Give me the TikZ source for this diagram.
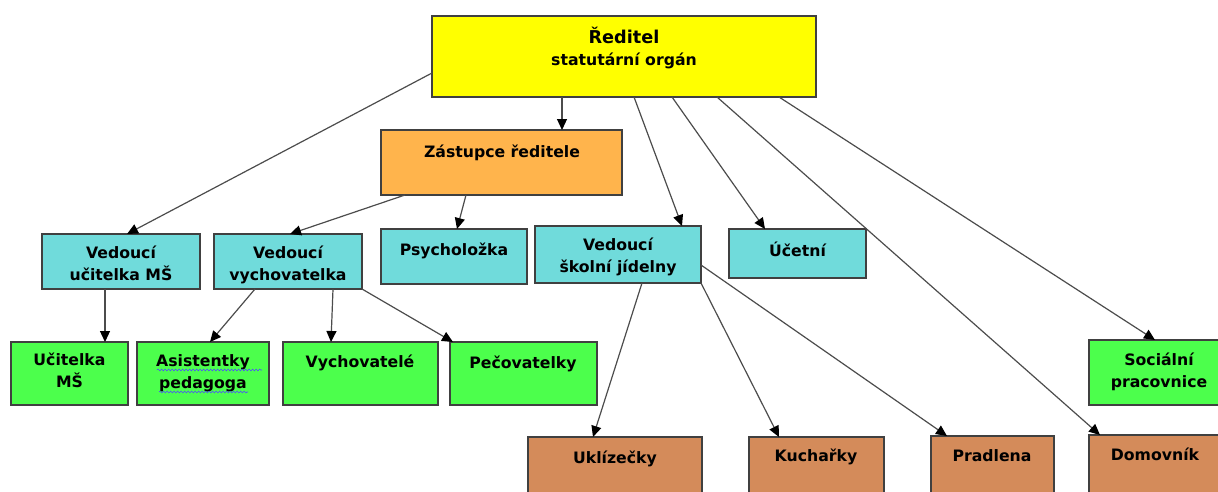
\documentclass[tikz,border=0pt]{standalone}
\usepackage{fontspec}
\setmainfont{DejaVu Sans}
\usepackage{xcolor}
\usetikzlibrary{arrows.meta, positioning, decorations.pathmorphing}

\definecolor{boxyellow}{HTML}{FFFF00}
\definecolor{boxorange}{HTML}{FFB44C}
\definecolor{boxcyan}{HTML}{70DBDB}
\definecolor{boxgreen}{HTML}{4CFF4C}
\definecolor{boxbrown}{HTML}{D48B5A}

\begin{document}
\begin{tikzpicture}[x=1pt, y=-1pt,
    box/.style={draw=black!75, line width=1.3pt, rectangle, anchor=north west, inner sep=0pt, outer sep=0pt},
    lbl/.style={anchor=north, align=center, inner sep=0pt, font=\bfseries\fontsize{15.7}{22}\selectfont, execute at begin node=\strut},
    conn/.style={draw=black!70, line width=1.2pt, -{Triangle[length=11pt, width=10pt, color=black]}},
    squiggle/.style={draw=blue!70, line width=0.6pt, decorate, decoration={snake, amplitude=0.9pt, segment length=3.5pt}}
    ]
        % Frame
        \useasboundingbox (0,0) rectangle (1218,491);
        \clip (0,0) rectangle (1218,491);

        % Top
        \node[box, fill=boxyellow, minimum width=384, minimum height=81] (red) at (432,16) {};
        \node[box, fill=boxorange, minimum width=241, minimum height=65] (zast) at (381,130) {};

        % Middle row
        \node[box, fill=boxcyan, minimum width=158, minimum height=55] (veduc) at (42,234) {};
        \node[box, fill=boxcyan, minimum width=148, minimum height=55] (vedvych) at (214,234) {};
        \node[box, fill=boxcyan, minimum width=146, minimum height=55] (psych) at (381,229) {};
        \node[box, fill=boxcyan, minimum width=166, minimum height=57] (vedjid) at (535,226) {};
        \node[box, fill=boxcyan, minimum width=137, minimum height=49] (ucet) at (729,229) {};

        % Green row
        \node[box, fill=boxgreen, minimum width=117, minimum height=63] (ucit) at (11,342) {};
        \node[box, fill=boxgreen, minimum width=132, minimum height=63] (asist) at (137,342) {};
        \node[box, fill=boxgreen, minimum width=155, minimum height=63] (vych) at (283,342) {};
        \node[box, fill=boxgreen, minimum width=147, minimum height=63] (pecov) at (450,342) {};
        \node[box, fill=boxgreen, minimum width=140, minimum height=65] (soc) at (1089,340) {};

        % Bottom row
        \node[box, fill=boxbrown, minimum width=174, minimum height=70] (ukl) at (528,437) {};
        \node[box, fill=boxbrown, minimum width=135, minimum height=70] (kuch) at (749,437) {};
        \node[box, fill=boxbrown, minimum width=123, minimum height=70] (prad) at (931,436) {};
        \node[box, fill=boxbrown, minimum width=140, minimum height=70] (domov) at (1089,435) {};

        % Texts
        \node[lbl] (red-t) at (624,27) {{\fontsize{17.7}{22}\selectfont Ředitel}\\statutární orgán};
        \node[lbl] (zast-t) at (502,142) {Zástupce ředitele};
        \node[lbl] (veduc-t) at (121,246) {Vedoucí\\učitelka MŠ};
        \node[lbl] (vedvych-t) at (288,246) {Vedoucí\\vychovatelka};
        \node[lbl] (psych-t) at (454,240) {Psycholožka};
        \node[lbl] (vedjid-t) at (618,238) {Vedoucí\\školní jídelny};
        \node[lbl] (ucet-t) at (797.5,241) {Účetní};
        \node[lbl] (ucit-t) at (69.5,352.5) {Učitelka\\MŠ};
        \node[lbl] (asist-t) at (203,354) {Asistentky\\pedagoga};
        \node[lbl] (vych-t) at (360,351.5) {Vychovatelé};
        \node[lbl] (pecov-t) at (523,352.5) {Pečovatelky};
        \node[lbl] (soc-t) at (1159,352.5) {Sociální\\pracovnice};
        \node[lbl] (ukl-t) at (615,447.5) {Uklízečky};
        \node[lbl] (kuch-t) at (816,445.5) {Kuchařky};
        \node[lbl] (prad-t) at (992,446) {Pradlena};
        \node[lbl] (domov-t) at (1155,445) {Domovník};

        % Spell check marks
        \draw[squiggle] (157,370) -- (262,370);
        \draw[squiggle] (159,392) -- (248,392);

        % Connectors from the director
        \draw[conn] (562,0 |- red.south) -- (562,0 |- zast.north);
        \draw[conn] (red.west |- 0,73) -- (127,0 |- veduc.north);
        \draw[conn] (634,0 |- red.south) -- (682,0 |- vedjid.north);
        \draw[conn] (672,0 |- red.south) -- (765,0 |- ucet.north);
        \draw[conn] (717,0 |- red.south) -- (1100,0 |- domov.north);
        \draw[conn] (779,0 |- red.south) -- (1155,0 |- soc.north);

        % Connectors from the deputy
        \draw[conn] (405,0 |- zast.south) -- (290,0 |- vedvych.north);
        \draw[conn] (466,0 |- zast.south) -- (457,0 |- psych.north);

        % Connectors to the lower rows
        \draw[conn] (105,0 |- veduc.south) -- (105,0 |- ucit.north);
        \draw[conn] (255,0 |- vedvych.south) -- (210,0 |- asist.north);
        \draw[conn] (333,0 |- vedvych.south) -- (331,0 |- vych.north);
        \draw[conn] (vedvych.south east) -- (453,0 |- pecov.north);
        \draw[conn] (642,0 |- vedjid.south) -- (593,0 |- ukl.north);
        \draw[conn] (vedjid.south east) -- (779,0 |- kuch.north);
        \draw[conn] (vedjid.east |- 0,265) -- (947,0 |- prad.north);

    \end{tikzpicture}
\end{document}
